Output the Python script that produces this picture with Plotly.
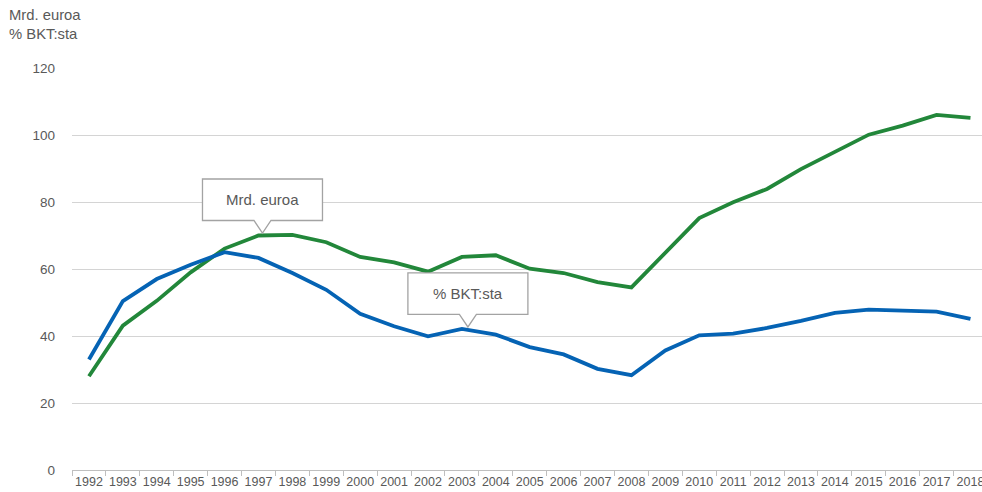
import plotly.graph_objects as go

# Annual series, 1992-2018
years = [str(y) for y in range(1992, 2019)]
mrd_euroa = [28.0, 43.1, 50.5, 59.0, 66.1, 70.0, 70.2, 68.0, 63.6, 62.0,
             59.2, 63.6, 64.1, 60.1, 58.8, 56.1, 54.5, 64.8, 75.2, 79.9,
             83.9, 89.8, 95.1, 100.1, 102.8, 106.0, 105.1]
bkt_osuus = [33.0, 50.4, 57.0, 61.3, 65.0, 63.3, 58.8, 53.8, 46.6, 42.9,
             39.9, 42.1, 40.4, 36.7, 34.5, 30.2, 28.3, 35.7, 40.2, 40.7,
             42.4, 44.5, 46.9, 47.9, 47.6, 47.3, 45.1]
y_ticks = [0, 20, 40, 60, 80, 100, 120]

GREEN = "#22873a"
BLUE = "#0563b4"
TEXT = "#595959"
FONT = "Liberation Sans, Arial, sans-serif"

fig = go.Figure()
fig.add_trace(go.Scatter(x=years, y=mrd_euroa, mode="lines", name="Mrd. euroa",
                         line=dict(color=GREEN, width=3.8)))
fig.add_trace(go.Scatter(x=years, y=bkt_osuus, mode="lines", name="% BKT:sta",
                         line=dict(color=BLUE, width=3.8)))


def callout(label, idx, value, dx=4, dy=2):
    """Speech-bubble label whose pointer tip sits just above a data point."""
    half_w, bottom, top, half_base = 60, 12.5, 54, 8.5
    tx, ty = dx, dy
    path = (f"M{tx - half_w},{ty + bottom} L{tx - half_base},{ty + bottom} "
            f"L{tx},{ty} L{tx + half_base},{ty + bottom} L{tx + half_w},{ty + bottom} "
            f"L{tx + half_w},{ty + top} L{tx - half_w},{ty + top} Z")
    fig.add_shape(type="path", path=path, xref="x", yref="y",
                  xsizemode="pixel", ysizemode="pixel",
                  xanchor=idx, yanchor=value,
                  line=dict(color="#a3a3a3", width=1.3), fillcolor="white",
                  layer="above")
    fig.add_annotation(x=idx, y=value, xref="x", yref="y", text=label,
                       showarrow=False, xshift=tx, yshift=ty + (bottom + top) / 2,
                       font=dict(family=FONT, size=15, color=TEXT))


i97 = years.index("1997")
i03 = years.index("2003")
callout("Mrd. euroa", i97, mrd_euroa[i97], dx=4, dy=2.5)
callout("% BKT:sta", i03, bkt_osuus[i03], dx=6, dy=2)

# Two-line unit heading in the top-left corner
fig.add_annotation(xref="paper", yref="paper", x=0, y=1, xanchor="left", yanchor="top",
                   xshift=-65, yshift=63, align="left", showarrow=False,
                   text="Mrd. euroa<br>% BKT:sta",
                   font=dict(family=FONT, size=14.8, color=TEXT))

fig.update_layout(
    width=982, height=492,
    margin=dict(l=72, r=0, t=68, b=22),
    paper_bgcolor="white", plot_bgcolor="white",
    showlegend=False,
    font=dict(family=FONT, color=TEXT),
)
fig.update_xaxes(type="category", range=[-0.5, 26.34], tickson="boundaries",
                 ticks="outside", ticklen=5, tickcolor="#bfbfbf", tickangle=0,
                 automargin=False,
                 showgrid=False, showline=True, linecolor="#bfbfbf", linewidth=1,
                 tickfont=dict(family=FONT, size=12.5, color=TEXT))
fig.update_yaxes(range=[0, 120], tickvals=y_ticks, showgrid=True, automargin=False,
                 gridcolor="#d4d4d4", gridwidth=1, zeroline=False,
                 showline=False, ticks="", ticklabelstandoff=16,
                 tickfont=dict(family=FONT, size=13.5, color=TEXT))

fig.write_html("out.html")
